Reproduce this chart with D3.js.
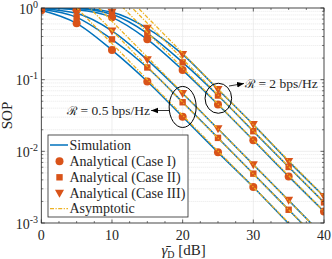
<!DOCTYPE html>
<html><head><meta charset="utf-8">
<script src="https://cdn.jsdelivr.net/npm/d3@7"></script>
<style>body{margin:0;background:#fff}svg{display:block}text{font-family:"Liberation Serif","Times New Roman",serif;fill:#262626}</style>
</head><body><svg id="c" width="332" height="259" font-family="Liberation Serif, serif"></svg>
<script>
// ---- data ----
const snrDb = [0, 5, 10, 15, 20, 25, 30, 35, 40];
// R = 2 bps/Hz
const r2CaseI   = [1.0, 0.944, 0.741, 0.365, 0.136, 0.045, 0.01426, 0.00447, 0.00145];
const r2CaseII  = [1.0, 0.98, 0.817, 0.443, 0.174, 0.0601, 0.0191, 0.00605, 0.00194];
const r2CaseIII = [1.0, 0.99, 0.871, 0.52, 0.225, 0.073, 0.0236, 0.00724, 0.00235];
// R = 0.5 bps/Hz
const r05CaseI   = [0.93, 0.611, 0.259, 0.0944, 0.0303, 0.00968, 0.00318, 0.00098, 0.00032];
const r05CaseII  = [0.96, 0.741, 0.365, 0.148, 0.0484, 0.0154, 0.00488, 0.00153, 0.00048];
const r05CaseIII = [0.977, 0.843, 0.479, 0.189, 0.0641, 0.0206, 0.00652, 0.00207, 0.00065];
// asymptotes: values at the two ends of the x range
const asymDb = [0, 40];
const asymR2CaseI    = [14.5, 0.00145];
const asymR2CaseII   = [19.4, 0.00194];
const asymR2CaseIII  = [23.5, 0.00235];
const asymR05CaseI   = [3.18, 0.000318];
const asymR05CaseII  = [4.84, 0.000484];
const asymR05CaseIII = [6.53, 0.000653];
const xTicks = [0, 10, 20, 30, 40];
const yTicks = [1e-3, 1e-2, 1e-1, 1];
const yTickExp = ["-3", "-2", "-1", "0"];
const legendLabels = ["Simulation", "Analytical (Case I)", "Analytical (Case II)", "Analytical (Case III)", "Asymptotic"];

// ---- setup ----
const svg = d3.select("#c");
const L = 41.3, R = 324, T = 8, B = 223;
const x = d3.scaleLinear().domain([0, 40]).range([L, R]);
const y = d3.scaleLog().domain([1e-3, 1]).range([B, T]);
const BLUE = "#0072BD", ORANGE = "#D95319", YEL = "#EDB120", AX = "#262626";

svg.append("defs").append("clipPath").attr("id", "clip")
  .append("rect").attr("x", L).attr("y", T).attr("width", R - L).attr("height", B - T);
const mk = svg.append("defs").append("marker").attr("id", "arr").attr("viewBox", "0 0 10 10")
  .attr("refX", 10).attr("refY", 5).attr("markerWidth", 7).attr("markerHeight", 7)
  .attr("markerUnits", "userSpaceOnUse").attr("orient", "auto");
mk.append("path").attr("d", "M0,1L10,5L0,9Z").attr("fill", "#000");

svg.append("rect").attr("x", L).attr("y", T).attr("width", R - L).attr("height", B - T).attr("fill", "#fff");

// grid
const g = svg.append("g");
const minorY = [];
for (let e = -3; e < 0; e++) for (let m = 2; m <= 9; m++) minorY.push(m * Math.pow(10, e));
g.selectAll(".mg").data(minorY).enter().append("line")
  .attr("x1", L).attr("x2", R).attr("y1", d => y(d)).attr("y2", d => y(d))
  .attr("stroke", "#d0d0d0").attr("stroke-width", 0.5).attr("stroke-dasharray", "1,1");
g.selectAll(".gy").data(yTicks).enter().append("line")
  .attr("x1", L).attr("x2", R).attr("y1", d => y(d)).attr("y2", d => y(d))
  .attr("stroke", "#e3e3e3").attr("stroke-width", 0.6);
g.selectAll(".gx").data(xTicks).enter().append("line")
  .attr("y1", T).attr("y2", B).attr("x1", d => x(d)).attr("x2", d => x(d))
  .attr("stroke", "#e3e3e3").attr("stroke-width", 0.6);

const series = [
  { v: r2CaseI, m: "circle" }, { v: r2CaseII, m: "square" }, { v: r2CaseIII, m: "tri" },
  { v: r05CaseI, m: "circle" }, { v: r05CaseII, m: "square" }, { v: r05CaseIII, m: "tri" }
];
const asyms = [asymR2CaseI, asymR2CaseII, asymR2CaseIII, asymR05CaseI, asymR05CaseII, asymR05CaseIII];

const plot = svg.append("g").attr("clip-path", "url(#clip)");
const line = d3.line().x((d, i) => x(snrDb[i])).y(d => y(d)).curve(d3.curveMonotoneX);
series.forEach(s => {
  plot.append("path").attr("d", line(s.v)).attr("fill", "none").attr("stroke", BLUE).attr("stroke-width", 1.5);
});

function drawMarker(sel, type, cx, cy) {
  if (type === "circle") sel.append("circle").attr("cx", cx).attr("cy", cy).attr("r", 4).attr("fill", ORANGE);
  else if (type === "square") sel.append("rect").attr("x", cx - 3.2).attr("y", cy - 3.2).attr("width", 6.4).attr("height", 6.4).attr("fill", ORANGE);
  else sel.append("path").attr("d", `M${cx - 4.5},${cy - 3.5}L${cx + 4.5},${cy - 3.5}L${cx},${cy + 4.5}Z`).attr("fill", ORANGE);
}
series.forEach(s => {
  s.v.forEach((v, i) => { if (v >= 1e-3) drawMarker(plot, s.m, x(snrDb[i]), y(v)); });
});

const aline = d3.line().x((d, i) => x(asymDb[i])).y(d => y(d));
asyms.forEach(a => {
  plot.append("path").attr("d", aline(a)).attr("fill", "none").attr("stroke", YEL)
    .attr("stroke-width", 1.3).attr("stroke-dasharray", "4,1.5,1.2,1.5");
});

// axes box and ticks
const ax = svg.append("g");
ax.append("rect").attr("x", L).attr("y", T).attr("width", R - L).attr("height", B - T)
  .attr("fill", "none").attr("stroke", AX).attr("stroke-width", 0.8);
const minorX = d3.range(0, 40.01, 2.5).filter(v => v % 10 !== 0);
xTicks.forEach(v => {
  ax.append("line").attr("x1", x(v)).attr("x2", x(v)).attr("y1", B).attr("y2", B - 3.5).attr("stroke", AX).attr("stroke-width", 0.7);
  ax.append("line").attr("x1", x(v)).attr("x2", x(v)).attr("y1", T).attr("y2", T + 3.5).attr("stroke", AX).attr("stroke-width", 0.7);
});
minorX.forEach(v => {
  ax.append("line").attr("x1", x(v)).attr("x2", x(v)).attr("y1", B).attr("y2", B - 2).attr("stroke", AX).attr("stroke-width", 0.6);
  ax.append("line").attr("x1", x(v)).attr("x2", x(v)).attr("y1", T).attr("y2", T + 2).attr("stroke", AX).attr("stroke-width", 0.6);
});
yTicks.forEach(v => {
  ax.append("line").attr("x1", L).attr("x2", L + 3.5).attr("y1", y(v)).attr("y2", y(v)).attr("stroke", AX).attr("stroke-width", 0.7);
  ax.append("line").attr("x1", R).attr("x2", R - 3.5).attr("y1", y(v)).attr("y2", y(v)).attr("stroke", AX).attr("stroke-width", 0.7);
});
minorY.forEach(v => {
  ax.append("line").attr("x1", L).attr("x2", L + 2).attr("y1", y(v)).attr("y2", y(v)).attr("stroke", AX).attr("stroke-width", 0.6);
  ax.append("line").attr("x1", R).attr("x2", R - 2).attr("y1", y(v)).attr("y2", y(v)).attr("stroke", AX).attr("stroke-width", 0.6);
});

// tick labels
xTicks.forEach(v => {
  ax.append("text").attr("x", x(v)).attr("y", 239.5).attr("text-anchor", "middle").attr("font-size", 14).text(v);
});
yTicks.forEach((v, i) => {
  const t = ax.append("text").attr("x", 38).attr("y", y(v) + 5.5).attr("text-anchor", "end").attr("font-size", 14);
  t.append("tspan").text("10");
  t.append("tspan").attr("dy", -6).attr("font-size", 10).text(yTickExp[i]);
});

// axis labels
ax.append("text").attr("transform", `translate(12,${(T + B) / 2}) rotate(-90)`).attr("text-anchor", "middle")
  .attr("font-size", 15).text("SOP");
const xl = ax.append("text").attr("x", (L + R) / 2 + 1).attr("y", 255).attr("text-anchor", "middle").attr("font-size", 15);
xl.append("tspan").attr("font-style", "italic").text("\u03B3\u0304");
xl.append("tspan").attr("dy", 3).attr("font-size", 10).text("D");
xl.append("tspan").attr("dy", -3).text(" [dB]");

// annotations (anchored on data coordinates)
const ann = svg.append("g");
ann.append("ellipse").attr("cx", x(20)).attr("cy", y(0.0416)).attr("rx", 13.5).attr("ry", 20.5)
  .attr("fill", "none").attr("stroke", "#000").attr("stroke-width", 1);
ann.append("ellipse").attr("cx", x(25.05)).attr("cy", y(0.055)).attr("rx", 13.3).attr("ry", 15)
  .attr("fill", "none").attr("stroke", "#000").attr("stroke-width", 1);
ann.append("line").attr("x1", x(20) - 13.3).attr("y1", 110.5).attr("x2", 151).attr("y2", 110.5)
  .attr("stroke", "#000").attr("stroke-width", 0.8).attr("marker-end", "url(#arr)");
ann.append("line").attr("x1", 229).attr("y1", 86).attr("x2", 244).attr("y2", 83.5)
  .attr("stroke", "#000").attr("stroke-width", 0.8).attr("marker-end", "url(#arr)");
const a1 = ann.append("text").attr("x", 150).attr("y", 114.5).attr("text-anchor", "end").attr("font-size", 13.5);
a1.append("tspan").attr("font-family", "DejaVu Serif").attr("font-size", 12).text("\u211B");
a1.append("tspan").text(" = 0.5 bps/Hz");
const a2 = ann.append("text").attr("x", 245).attr("y", 87.5).attr("font-size", 13.5);
a2.append("tspan").attr("font-family", "DejaVu Serif").attr("font-size", 12).text("\u211B");
a2.append("tspan").text(" = 2 bps/Hz");

// legend
const lg = svg.append("g");
lg.append("rect").attr("x", 48).attr("y", 135).attr("width", 140).attr("height", 82)
  .attr("fill", "#fff").attr("stroke", AX).attr("stroke-width", 0.8);
const ly = [145, 161.3, 177.3, 193.3, 208.6];
lg.append("line").attr("x1", 50).attr("x2", 68).attr("y1", ly[0]).attr("y2", ly[0]).attr("stroke", BLUE).attr("stroke-width", 1.5);
drawMarker(lg, "circle", 59.5, ly[1]);
drawMarker(lg, "square", 59.5, ly[2]);
drawMarker(lg, "tri", 59.5, ly[3]);
lg.append("line").attr("x1", 50).attr("x2", 68).attr("y1", ly[4]).attr("y2", ly[4]).attr("stroke", YEL)
  .attr("stroke-width", 1.3).attr("stroke-dasharray", "4,1.5,1.2,1.5");
legendLabels.forEach((t, i) => {
  lg.append("text").attr("x", 69.5).attr("y", ly[i] + 4.5).attr("font-size", 14).text(t);
});
</script></body></html>
